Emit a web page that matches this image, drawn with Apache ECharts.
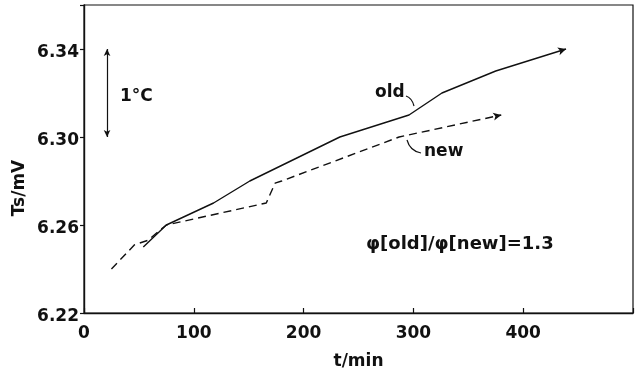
<!DOCTYPE html>
<html>
<head>
<meta charset="utf-8">
<script src="https://cdn.jsdelivr.net/npm/echarts@6/dist/echarts.min.js"></script>
<style>
html,body{margin:0;padding:0;background:#fff;}
#chart{width:636px;height:371px;}
</style>
</head>
<body>
<div id="chart"></div>
<script>
// ---- data ----
var oldT   = [54, 75, 118, 151, 233, 296, 326, 375, 439];
var oldV   = [6.250, 6.260, 6.270, 6.280, 6.300, 6.310, 6.320, 6.330, 6.340];
var newT   = [25, 46, 58, 75, 166, 174, 180, 287, 380];
var newV   = [6.240, 6.251, 6.253, 6.260, 6.270, 6.279, 6.280, 6.300, 6.310];
var scaleBarT = [21, 21];
var scaleBarV = [6.30, 6.34];
var xTicks = [0, 100, 200, 300, 400];
var yTicks = [6.22, 6.26, 6.30, 6.34];

function pairs(t, v) { return t.map(function (x, i) { return [x, v[i]]; }); }
var oldData = pairs(oldT, oldV);
var newData = pairs(newT, newV);

var FONT = 'DejaVu Sans';
var INK = '#111';

var chart = echarts.init(document.getElementById('chart'), null, {renderer: 'canvas'});

function endArrow(data) {
  var n = data.length;
  return {
    silent: true,
    symbol: ['none', 'arrow'],
    symbolSize: [6, 8],
    label: {show: false},
    lineStyle: {color: INK, width: 0, type: 'solid'},
    data: [[{coord: data[n - 2]}, {coord: data[n - 1]}]]
  };
}

chart.setOption({
  animation: false,
  backgroundColor: '#fff',
  grid: {left: 84, right: 3, top: 5, bottom: 58, outerBoundsMode: 'none', containLabel: false,
         show: true, borderColor: INK, borderWidth: 1.2, backgroundColor: 'transparent'},
  xAxis: {
    type: 'value', min: 0, max: 500, interval: 100,
    axisLine: {show: true, lineStyle: {color: INK, width: 1.4}},
    axisTick: {show: true, inside: true, length: 5, lineStyle: {color: INK, width: 1.2}},
    splitLine: {show: false},
    axisLabel: {
      margin: 12, color: INK, fontFamily: FONT, fontSize: 17, fontWeight: 'bold',
      formatter: function (v) { return xTicks.indexOf(v) >= 0 ? String(v) : ''; }
    },
    name: 't/min', nameLocation: 'middle', nameGap: 40,
    nameTextStyle: {color: INK, fontFamily: FONT, fontSize: 17, fontWeight: 'bold'}
  },
  yAxis: {
    type: 'value', min: 6.22, max: 6.36, interval: 0.04,
    axisLine: {show: true, lineStyle: {color: INK, width: 1.4}},
    axisTick: {show: true, inside: false, length: 4, lineStyle: {color: INK, width: 1.2}},
    splitLine: {show: false},
    axisLabel: {
      margin: 5, color: INK, fontFamily: FONT, fontSize: 17, fontWeight: 'bold',
      verticalAlign: 'top', lineHeight: 8,
      formatter: function (v) {
        for (var i = 0; i < yTicks.length; i++) if (Math.abs(yTicks[i] - v) < 1e-6) return yTicks[i].toFixed(2);
        return '';
      }
    }
  },
  series: [
    {
      name: 'old', type: 'line', data: oldData, showSymbol: false, symbol: 'none',
      lineStyle: {color: INK, width: 1.4},
      markLine: endArrow(oldData)
    },
    {
      name: 'new', type: 'line', data: newData, showSymbol: false, symbol: 'none',
      lineStyle: {color: INK, width: 1.4, type: [8, 5]},
      markLine: endArrow(newData)
    },
    {
      name: 'scale', type: 'line', data: [], symbol: 'none',
      markLine: {
        silent: true,
        symbol: ['arrow', 'arrow'],
        symbolSize: [5, 7],
        label: {show: false},
        lineStyle: {color: INK, width: 1.2, type: 'solid'},
        data: [[{coord: [scaleBarT[0], scaleBarV[0]]}, {coord: [scaleBarT[1], scaleBarV[1]]}]]
      }
    }
  ],
  graphic: [
    {type: 'text', left: 120, top: 88, style: {text: '1°C', font: 'bold 17px "DejaVu Sans"', fill: INK}},
    {type: 'text', x: 20, y: 188, rotation: Math.PI / 2, style: {text: 'Ts/mV', font: 'bold 17px "DejaVu Sans"', fill: INK, align: 'center', verticalAlign: 'middle'}},
    {type: 'text', left: 375, top: 84, style: {text: 'old', font: 'bold 17px "DejaVu Sans"', fill: INK}},
    {type: 'text', left: 424, top: 143, style: {text: 'new', font: 'bold 17px "DejaVu Sans"', fill: INK}},
    {type: 'text', left: 366, top: 235, style: {text: 'φ[old]/φ[new]=1.3', font: 'bold 18px "DejaVu Sans"', fill: INK}},
    {type: 'bezierCurve', shape: {x1: 406, y1: 96, x2: 414, y2: 106, cpx1: 412, cpy1: 98}, style: {stroke: INK, lineWidth: 1.2, fill: null}},
    {type: 'bezierCurve', shape: {x1: 407, y1: 140, x2: 421, y2: 153, cpx1: 410, cpy1: 151}, style: {stroke: INK, lineWidth: 1.2, fill: null}}
  ]
});
</script>
</body>
</html>
